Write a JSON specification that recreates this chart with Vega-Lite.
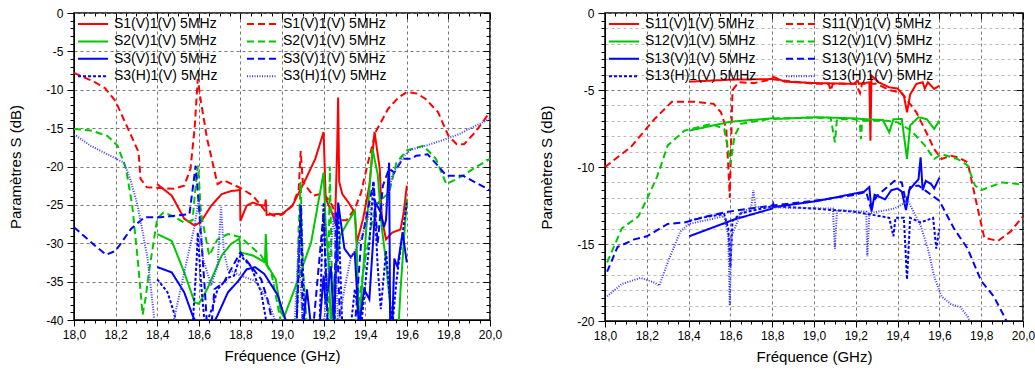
{
"$schema": "https://vega.github.io/schema/vega-lite/v6.json",
"padding": {"left": 7, "top": 6, "right": 0, "bottom": 0},
"config": {
  "font": "Liberation Sans",
  "view": {"stroke": "black", "strokeWidth": 1.5},
  "axis": {"labelFontSize": 12, "labelColor": "black", "titleFontSize": 15, "titleFontWeight": "normal", "titleColor": "black", "tickColor": "black", "domainColor": "black", "gridDash": [3, 3], "gridColor": "#777", "labelFont": "Liberation Sans", "titleFont": "Liberation Sans"},
  "legend": {"columns": 2, "symbolType": "M-1,0H5", "symbolSize": 100, "labelFontSize": 14, "labelFont": "Liberation Sans", "labelColor": "black", "labelOffset": 24, "columnPadding": 25, "rowPadding": 3.4, "padding": 0, "labelLimit": 300}
},
"datasets": {
"left": [
{"s":"a","f":18.40,"v":-22.3},{"s":"a","f":18.47,"v":-23.8},{"s":"a","f":18.53,"v":-26.8},{"s":"a","f":18.58,"v":-27.7},{"s":"a","f":18.61,"v":-27.2},{"s":"a","f":18.66,"v":-25.1},{"s":"a","f":18.71,"v":-23.6},{"s":"a","f":18.755,"v":-23.2},{"s":"a","f":18.79,"v":-23.1},{"s":"a","f":18.798,"v":-23.0},{"s":"a","f":18.80,"v":-27.1},{"s":"a","f":18.83,"v":-25.1},{"s":"a","f":18.86,"v":-24.7},{"s":"a","f":18.89,"v":-25.0},{"s":"a","f":18.918,"v":-25.1},{"s":"a","f":18.922,"v":-24.3},{"s":"a","f":18.926,"v":-26.3},{"s":"a","f":18.97,"v":-26.2},{"s":"a","f":19.0,"v":-26.2},{"s":"a","f":19.05,"v":-25.1},{"s":"a","f":19.115,"v":-21.6},{"s":"a","f":19.16,"v":-19.0},{"s":"a","f":19.2,"v":-15.5},{"s":"a","f":19.21,"v":-24.2},{"s":"a","f":19.24,"v":-26.0},{"s":"a","f":19.255,"v":-27.3},{"s":"a","f":19.265,"v":-18},{"s":"a","f":19.27,"v":-11.0},{"s":"a","f":19.275,"v":-22},{"s":"a","f":19.29,"v":-23.6},{"s":"a","f":19.32,"v":-24.7},{"s":"a","f":19.35,"v":-26.0},{"s":"a","f":19.36,"v":-29.9},{"s":"a","f":19.39,"v":-26.8},{"s":"a","f":19.42,"v":-22.5},{"s":"a","f":19.445,"v":-15.5},{"s":"a","f":19.47,"v":-20.3},{"s":"a","f":19.48,"v":-26.8},{"s":"a","f":19.5,"v":-29.5},{"s":"a","f":19.53,"v":-28.6},{"s":"a","f":19.57,"v":-28.2},{"s":"a","f":19.585,"v":-26},{"s":"a","f":19.6,"v":-22.5},
{"s":"b","f":18.0,"v":-7.8},{"s":"b","f":18.1,"v":-9.0},{"s":"b","f":18.15,"v":-9.8},{"s":"b","f":18.2,"v":-11.5},{"s":"b","f":18.26,"v":-15.1},{"s":"b","f":18.31,"v":-18.1},{"s":"b","f":18.32,"v":-21.6},{"s":"b","f":18.35,"v":-22.7},{"s":"b","f":18.48,"v":-22.9},{"s":"b","f":18.53,"v":-22.5},{"s":"b","f":18.56,"v":-20.3},{"s":"b","f":18.58,"v":-15},{"s":"b","f":18.595,"v":-8.6},{"s":"b","f":18.61,"v":-11.5},{"s":"b","f":18.64,"v":-16.4},{"s":"b","f":18.69,"v":-22.3},{"s":"b","f":18.72,"v":-21.8},{"s":"b","f":18.76,"v":-22.3},{"s":"b","f":18.8,"v":-22.8},{"s":"b","f":18.86,"v":-23.8},{"s":"b","f":18.92,"v":-25.8},{"s":"b","f":18.96,"v":-26.4},{"s":"b","f":19.0,"v":-26.3},{"s":"b","f":19.05,"v":-25.1},{"s":"b","f":19.08,"v":-23},{"s":"b","f":19.09,"v":-18},{"s":"b","f":19.1,"v":-22},{"s":"b","f":19.15,"v":-23.8},{"s":"b","f":19.2,"v":-23.5},{"s":"b","f":19.24,"v":-25},{"s":"b","f":19.27,"v":-27},{"s":"b","f":19.31,"v":-27},{"s":"b","f":19.35,"v":-25.5},{"s":"b","f":19.38,"v":-23.4},{"s":"b","f":19.41,"v":-19.9},{"s":"b","f":19.45,"v":-15.5},{"s":"b","f":19.51,"v":-12.5},{"s":"b","f":19.56,"v":-11},{"s":"b","f":19.6,"v":-10.3},{"s":"b","f":19.65,"v":-10.5},{"s":"b","f":19.69,"v":-11.2},{"s":"b","f":19.75,"v":-12.9},{"s":"b","f":19.8,"v":-16},{"s":"b","f":19.84,"v":-17.1},{"s":"b","f":19.875,"v":-17.1},{"s":"b","f":19.93,"v":-15.5},{"s":"b","f":20.0,"v":-12.9},
{"s":"c","f":18.40,"v":-28.8},{"s":"c","f":18.47,"v":-29.7},{"s":"c","f":18.53,"v":-33.8},{"s":"c","f":18.58,"v":-37.7},{"s":"c","f":18.60,"v":-37.9},{"s":"c","f":18.64,"v":-36.0},{"s":"c","f":18.71,"v":-31.6},{"s":"c","f":18.755,"v":-30.1},{"s":"c","f":18.795,"v":-29.4},{"s":"c","f":18.80,"v":-31.2},{"s":"c","f":18.86,"v":-31.6},{"s":"c","f":18.918,"v":-32.5},{"s":"c","f":18.922,"v":-28.8},{"s":"c","f":18.928,"v":-32.8},{"s":"c","f":18.97,"v":-34.7},{"s":"c","f":18.995,"v":-39},{"s":"c","f":19.01,"v":-39.6},{"s":"c","f":19.06,"v":-36},{"s":"c","f":19.14,"v":-29.9},{"s":"c","f":19.2,"v":-20.8},{"s":"c","f":19.21,"v":-27.5},{"s":"c","f":19.225,"v":-33},{"s":"c","f":19.235,"v":-41},{"s":"c","f":19.25,"v":-35},{"s":"c","f":19.28,"v":-29},{"s":"c","f":19.315,"v":-27.3},{"s":"c","f":19.35,"v":-25.8},{"s":"c","f":19.36,"v":-31},{"s":"c","f":19.37,"v":-41},{"s":"c","f":19.40,"v":-30},{"s":"c","f":19.435,"v":-17.7},{"s":"c","f":19.46,"v":-21},{"s":"c","f":19.48,"v":-28},{"s":"c","f":19.5,"v":-32.4},{"s":"c","f":19.53,"v":-41},{"s":"c","f":19.56,"v":-41},{"s":"c","f":19.57,"v":-36},{"s":"c","f":19.6,"v":-24.2},
{"s":"d","f":18.0,"v":-15.1},{"s":"d","f":18.08,"v":-15.3},{"s":"d","f":18.16,"v":-16.0},{"s":"d","f":18.21,"v":-17.3},{"s":"d","f":18.25,"v":-20.3},{"s":"d","f":18.28,"v":-25.1},{"s":"d","f":18.306,"v":-32},{"s":"d","f":18.33,"v":-39.3},{"s":"d","f":18.345,"v":-37},{"s":"d","f":18.36,"v":-33.8},{"s":"d","f":18.38,"v":-30.3},{"s":"d","f":18.40,"v":-26.8},{"s":"d","f":18.43,"v":-26.0},{"s":"d","f":18.47,"v":-26.4},{"s":"d","f":18.53,"v":-27.3},{"s":"d","f":18.57,"v":-27.0},{"s":"d","f":18.59,"v":-21},{"s":"d","f":18.597,"v":-19.9},{"s":"d","f":18.61,"v":-26},{"s":"d","f":18.65,"v":-31.6},{"s":"d","f":18.69,"v":-29.5},{"s":"d","f":18.74,"v":-28.8},{"s":"d","f":18.8,"v":-29.2},{"s":"d","f":18.9,"v":-31.6},{"s":"d","f":18.95,"v":-34},{"s":"d","f":19.0,"v":-41},{"s":"d","f":19.07,"v":-41},{"s":"d","f":19.08,"v":-28},{"s":"d","f":19.09,"v":-22},{"s":"d","f":19.1,"v":-33},{"s":"d","f":19.12,"v":-41},{"s":"d","f":19.22,"v":-41},{"s":"d","f":19.23,"v":-20},{"s":"d","f":19.24,"v":-35},{"s":"d","f":19.26,"v":-41},{"s":"d","f":19.35,"v":-41},{"s":"d","f":19.4,"v":-32},{"s":"d","f":19.45,"v":-25},{"s":"d","f":19.515,"v":-23.4},{"s":"d","f":19.55,"v":-19.5},{"s":"d","f":19.6,"v":-17.9},{"s":"d","f":19.68,"v":-17.3},{"s":"d","f":19.74,"v":-19},{"s":"d","f":19.79,"v":-22.3},{"s":"d","f":19.87,"v":-21.2},{"s":"d","f":19.93,"v":-20.1},{"s":"d","f":20.0,"v":-19},
{"s":"e","f":18.40,"v":-33.1},{"s":"e","f":18.47,"v":-33.8},{"s":"e","f":18.53,"v":-36.4},{"s":"e","f":18.57,"v":-39.4},{"s":"e","f":18.6,"v":-41},{"s":"e","f":18.66,"v":-41},{"s":"e","f":18.69,"v":-39.4},{"s":"e","f":18.74,"v":-36.4},{"s":"e","f":18.79,"v":-34.9},{"s":"e","f":18.83,"v":-33.4},{"s":"e","f":18.87,"v":-33.1},{"s":"e","f":18.915,"v":-34.0},{"s":"e","f":18.98,"v":-36.8},{"s":"e","f":19.01,"v":-39.4},{"s":"e","f":19.03,"v":-41},{"s":"e","f":19.1,"v":-41},{"s":"e","f":19.12,"v":-36},{"s":"e","f":19.14,"v":-41},{"s":"e","f":19.18,"v":-41},{"s":"e","f":19.2,"v":-34.2},{"s":"e","f":19.21,"v":-38},{"s":"e","f":19.235,"v":-33},{"s":"e","f":19.25,"v":-41},{"s":"e","f":19.27,"v":-24.7},{"s":"e","f":19.3,"v":-30.7},{"s":"e","f":19.33,"v":-31.8},{"s":"e","f":19.35,"v":-31.2},{"s":"e","f":19.37,"v":-41},{"s":"e","f":19.395,"v":-36},{"s":"e","f":19.42,"v":-37.3},{"s":"e","f":19.45,"v":-24.7},{"s":"e","f":19.475,"v":-26},{"s":"e","f":19.49,"v":-27.9},{"s":"e","f":19.5,"v":-27},{"s":"e","f":19.515,"v":-19.5},{"s":"e","f":19.52,"v":-41},{"s":"e","f":19.53,"v":-41},{"s":"e","f":19.54,"v":-32},{"s":"e","f":19.555,"v":-33.1},{"s":"e","f":19.58,"v":-28.6},{"s":"e","f":19.6,"v":-32.5},
{"s":"f","f":18.0,"v":-27.9},{"s":"f","f":18.1,"v":-30.3},{"s":"f","f":18.155,"v":-31.5},{"s":"f","f":18.2,"v":-31.0},{"s":"f","f":18.275,"v":-28.1},{"s":"f","f":18.34,"v":-26.6},{"s":"f","f":18.42,"v":-26.6},{"s":"f","f":18.49,"v":-26.4},{"s":"f","f":18.555,"v":-26.2},{"s":"f","f":18.585,"v":-19.9},{"s":"f","f":18.6,"v":-25},{"s":"f","f":18.63,"v":-36.4},{"s":"f","f":18.64,"v":-41},{"s":"f","f":18.66,"v":-41},{"s":"f","f":18.675,"v":-36},{"s":"f","f":18.72,"v":-35.1},{"s":"f","f":18.8,"v":-31.2},{"s":"f","f":18.9,"v":-34.7},{"s":"f","f":18.93,"v":-37.3},{"s":"f","f":18.96,"v":-41},{"s":"f","f":19.07,"v":-41},{"s":"f","f":19.09,"v":-25},{"s":"f","f":19.1,"v":-41},{"s":"f","f":19.15,"v":-41},{"s":"f","f":19.2,"v":-26},{"s":"f","f":19.22,"v":-41},{"s":"f","f":19.25,"v":-41},{"s":"f","f":19.26,"v":-26},{"s":"f","f":19.28,"v":-41},{"s":"f","f":19.35,"v":-41},{"s":"f","f":19.38,"v":-30},{"s":"f","f":19.44,"v":-22},{"s":"f","f":19.46,"v":-30},{"s":"f","f":19.485,"v":-22.5},{"s":"f","f":19.515,"v":-20.3},{"s":"f","f":19.54,"v":-20.8},{"s":"f","f":19.58,"v":-19},{"s":"f","f":19.62,"v":-19},{"s":"f","f":19.645,"v":-18.6},{"s":"f","f":19.7,"v":-18.4},{"s":"f","f":19.75,"v":-19.9},{"s":"f","f":19.79,"v":-21.2},{"s":"f","f":19.87,"v":-21.2},{"s":"f","f":20.0,"v":-23.1},
{"s":"g","f":18.40,"v":-34.7},{"s":"g","f":18.45,"v":-36.4},{"s":"g","f":18.48,"v":-39},{"s":"g","f":18.5,"v":-41},{"s":"g","f":18.57,"v":-41},{"s":"g","f":18.59,"v":-32},{"s":"g","f":18.595,"v":-28.6},{"s":"g","f":18.61,"v":-35},{"s":"g","f":18.63,"v":-41},{"s":"g","f":18.67,"v":-38},{"s":"g","f":18.69,"v":-36},{"s":"g","f":18.74,"v":-34.5},{"s":"g","f":18.77,"v":-34.2},{"s":"g","f":18.8,"v":-31.6},{"s":"g","f":18.85,"v":-33},{"s":"g","f":18.9,"v":-36.4},{"s":"g","f":18.93,"v":-41},{"s":"g","f":19.07,"v":-41},{"s":"g","f":19.09,"v":-25.1},{"s":"g","f":19.11,"v":-41},{"s":"g","f":19.18,"v":-41},{"s":"g","f":19.2,"v":-24.7},{"s":"g","f":19.22,"v":-41},{"s":"g","f":19.25,"v":-41},{"s":"g","f":19.27,"v":-25},{"s":"g","f":19.29,"v":-41},{"s":"g","f":19.33,"v":-41},{"s":"g","f":19.35,"v":-36},{"s":"g","f":19.38,"v":-41},{"s":"g","f":19.42,"v":-30},{"s":"g","f":19.44,"v":-22},{"s":"g","f":19.46,"v":-33},{"s":"g","f":19.475,"v":-38.6},{"s":"g","f":19.5,"v":-31},{"s":"g","f":19.53,"v":-41},{"s":"g","f":19.55,"v":-35},{"s":"g","f":19.57,"v":-30.7},{"s":"g","f":19.6,"v":-24.7},
{"s":"h","f":18.0,"v":-15.8},{"s":"h","f":18.08,"v":-17.3},{"s":"h","f":18.16,"v":-18.4},{"s":"h","f":18.24,"v":-19.5},{"s":"h","f":18.27,"v":-21.6},{"s":"h","f":18.306,"v":-25.1},{"s":"h","f":18.354,"v":-32},{"s":"h","f":18.386,"v":-39.9},{"s":"h","f":18.40,"v":-41},{"s":"h","f":18.47,"v":-41},{"s":"h","f":18.48,"v":-40},{"s":"h","f":18.53,"v":-33.8},{"s":"h","f":18.58,"v":-27.7},{"s":"h","f":18.6,"v":-24.2},{"s":"h","f":18.62,"v":-32},{"s":"h","f":18.66,"v":-35.5},{"s":"h","f":18.69,"v":-33},{"s":"h","f":18.707,"v":-25.3},{"s":"h","f":18.72,"v":-31},{"s":"h","f":18.74,"v":-33.4},{"s":"h","f":18.8,"v":-34.2},{"s":"h","f":18.87,"v":-34.9},{"s":"h","f":18.93,"v":-37.3},{"s":"h","f":18.98,"v":-41},{"s":"h","f":19.06,"v":-41},{"s":"h","f":19.08,"v":-30},{"s":"h","f":19.1,"v":-41},{"s":"h","f":19.2,"v":-41},{"s":"h","f":19.25,"v":-26},{"s":"h","f":19.27,"v":-41},{"s":"h","f":19.3,"v":-36},{"s":"h","f":19.33,"v":-32},{"s":"h","f":19.38,"v":-29.4},{"s":"h","f":19.435,"v":-24.9},{"s":"h","f":19.45,"v":-24.7},{"s":"h","f":19.5,"v":-25.1},{"s":"h","f":19.53,"v":-21.2},{"s":"h","f":19.58,"v":-18.8},{"s":"h","f":19.62,"v":-17.8},{"s":"h","f":19.69,"v":-17.3},{"s":"h","f":19.77,"v":-16.6},{"s":"h","f":19.85,"v":-15.8},{"s":"h","f":19.93,"v":-14.7},{"s":"h","f":20.0,"v":-13.8}
],
"right": [
{"s":"a","f":18.403,"v":-4.46},{"s":"a","f":18.6,"v":-4.33},{"s":"a","f":18.8,"v":-4.29},{"s":"a","f":18.805,"v":-4.15},{"s":"a","f":18.86,"v":-4.46},{"s":"a","f":19.01,"v":-4.55},{"s":"a","f":19.19,"v":-4.6},{"s":"a","f":19.21,"v":-4.4},{"s":"a","f":19.215,"v":-4.6},{"s":"a","f":19.265,"v":-4.5},{"s":"a","f":19.27,"v":-8.3},{"s":"a","f":19.275,"v":-4.07},{"s":"a","f":19.31,"v":-4.5},{"s":"a","f":19.36,"v":-4.83},{"s":"a","f":19.4,"v":-4.9},{"s":"a","f":19.43,"v":-5.37},{"s":"a","f":19.445,"v":-6.45},{"s":"a","f":19.46,"v":-5.3},{"s":"a","f":19.49,"v":-4.6},{"s":"a","f":19.52,"v":-4.5},{"s":"a","f":19.53,"v":-4.9},{"s":"a","f":19.545,"v":-4.5},{"s":"a","f":19.575,"v":-4.93},{"s":"a","f":19.6,"v":-4.72},
{"s":"b","f":18.0,"v":-10.0},{"s":"b","f":18.124,"v":-8.7},{"s":"b","f":18.236,"v":-6.9},{"s":"b","f":18.32,"v":-5.76},{"s":"b","f":18.43,"v":-5.76},{"s":"b","f":18.52,"v":-5.9},{"s":"b","f":18.555,"v":-6.45},{"s":"b","f":18.58,"v":-7.5},{"s":"b","f":18.59,"v":-10},{"s":"b","f":18.597,"v":-12},{"s":"b","f":18.61,"v":-5},{"s":"b","f":18.64,"v":-4.5},{"s":"b","f":18.715,"v":-4.55},{"s":"b","f":18.8,"v":-4.3},{"s":"b","f":19.0,"v":-4.6},{"s":"b","f":19.07,"v":-4.6},{"s":"b","f":19.08,"v":-5.04},{"s":"b","f":19.09,"v":-4.6},{"s":"b","f":19.2,"v":-4.6},{"s":"b","f":19.22,"v":-5.2},{"s":"b","f":19.23,"v":-4.6},{"s":"b","f":19.3,"v":-4.6},{"s":"b","f":19.36,"v":-5},{"s":"b","f":19.42,"v":-5.2},{"s":"b","f":19.49,"v":-6.45},{"s":"b","f":19.545,"v":-7.97},{"s":"b","f":19.575,"v":-8.83},{"s":"b","f":19.61,"v":-9.48},{"s":"b","f":19.655,"v":-9.27},{"s":"b","f":19.69,"v":-9.37},{"s":"b","f":19.735,"v":-9.7},{"s":"b","f":19.78,"v":-12.5},{"s":"b","f":19.815,"v":-14.6},{"s":"b","f":19.88,"v":-14.8},{"s":"b","f":19.94,"v":-14.2},{"s":"b","f":20.0,"v":-13.2},
{"s":"c","f":18.403,"v":-7.64},{"s":"c","f":18.6,"v":-7.06},{"s":"c","f":18.8,"v":-6.84},{"s":"c","f":18.805,"v":-6.75},{"s":"c","f":18.81,"v":-6.88},{"s":"c","f":19.01,"v":-6.77},{"s":"c","f":19.19,"v":-6.84},{"s":"c","f":19.25,"v":-6.9},{"s":"c","f":19.33,"v":-6.95},{"s":"c","f":19.36,"v":-7.75},{"s":"c","f":19.38,"v":-6.9},{"s":"c","f":19.42,"v":-6.88},{"s":"c","f":19.445,"v":-9.48},{"s":"c","f":19.46,"v":-7.3},{"s":"c","f":19.5,"v":-6.77},{"s":"c","f":19.54,"v":-6.9},{"s":"c","f":19.575,"v":-7.53},{"s":"c","f":19.6,"v":-6.99},
{"s":"d","f":18.01,"v":-16.2},{"s":"d","f":18.08,"v":-14.0},{"s":"d","f":18.16,"v":-13.2},{"s":"d","f":18.2,"v":-12.1},{"s":"d","f":18.25,"v":-10.6},{"s":"d","f":18.3,"v":-8.6},{"s":"d","f":18.38,"v":-7.64},{"s":"d","f":18.51,"v":-7.2},{"s":"d","f":18.57,"v":-7.53},{"s":"d","f":18.595,"v":-9.27},{"s":"d","f":18.6,"v":-9.8},{"s":"d","f":18.62,"v":-7.97},{"s":"d","f":18.65,"v":-7.2},{"s":"d","f":18.8,"v":-6.85},{"s":"d","f":19.0,"v":-6.8},{"s":"d","f":19.08,"v":-6.8},{"s":"d","f":19.1,"v":-8.4},{"s":"d","f":19.11,"v":-6.9},{"s":"d","f":19.2,"v":-6.9},{"s":"d","f":19.22,"v":-7.3},{"s":"d","f":19.225,"v":-8.2},{"s":"d","f":19.23,"v":-7.0},{"s":"d","f":19.35,"v":-7.0},{"s":"d","f":19.4,"v":-7.1},{"s":"d","f":19.465,"v":-7.64},{"s":"d","f":19.53,"v":-8.6},{"s":"d","f":19.575,"v":-9.48},{"s":"d","f":19.61,"v":-9.16},{"s":"d","f":19.69,"v":-9.5},{"s":"d","f":19.735,"v":-9.9},{"s":"d","f":19.77,"v":-11.2},{"s":"d","f":19.8,"v":-11.5},{"s":"d","f":19.9,"v":-11.0},{"s":"d","f":19.975,"v":-11.1},{"s":"d","f":20.0,"v":-11.3},
{"s":"e","f":18.403,"v":-14.5},{"s":"e","f":18.62,"v":-13.4},{"s":"e","f":18.8,"v":-12.7},{"s":"e","f":18.805,"v":-12.4},{"s":"e","f":18.81,"v":-12.6},{"s":"e","f":19.02,"v":-12.2},{"s":"e","f":19.24,"v":-11.6},{"s":"e","f":19.265,"v":-11.3},{"s":"e","f":19.275,"v":-12.9},{"s":"e","f":19.29,"v":-11.8},{"s":"e","f":19.34,"v":-12.1},{"s":"e","f":19.37,"v":-11.5},{"s":"e","f":19.4,"v":-11.4},{"s":"e","f":19.42,"v":-11.6},{"s":"e","f":19.44,"v":-12.8},{"s":"e","f":19.456,"v":-11.5},{"s":"e","f":19.48,"v":-11.1},{"s":"e","f":19.5,"v":-10.8},{"s":"e","f":19.51,"v":-9.37},{"s":"e","f":19.52,"v":-11.5},{"s":"e","f":19.535,"v":-10.9},{"s":"e","f":19.56,"v":-11.1},{"s":"e","f":19.575,"v":-11.4},{"s":"e","f":19.6,"v":-10.7},
{"s":"f","f":18.01,"v":-16.8},{"s":"f","f":18.06,"v":-15.2},{"s":"f","f":18.14,"v":-14.7},{"s":"f","f":18.2,"v":-14.5},{"s":"f","f":18.3,"v":-13.7},{"s":"f","f":18.38,"v":-13.6},{"s":"f","f":18.49,"v":-13.2},{"s":"f","f":18.59,"v":-12.9},{"s":"f","f":18.8,"v":-12.5},{"s":"f","f":19.0,"v":-12.2},{"s":"f","f":19.2,"v":-11.8},{"s":"f","f":19.25,"v":-11.6},{"s":"f","f":19.27,"v":-12.6},{"s":"f","f":19.3,"v":-11.9},{"s":"f","f":19.385,"v":-10.9},{"s":"f","f":19.42,"v":-11.0},{"s":"f","f":19.44,"v":-12.3},{"s":"f","f":19.46,"v":-11.3},{"s":"f","f":19.5,"v":-11.2},{"s":"f","f":19.6,"v":-12.2},{"s":"f","f":19.67,"v":-14.0},{"s":"f","f":19.735,"v":-15.3},{"s":"f","f":19.8,"v":-17.4},{"s":"f","f":19.86,"v":-18.4},{"s":"f","f":19.91,"v":-19.7},{"s":"f","f":19.94,"v":-20.5},
{"s":"g","f":18.403,"v":-13.5},{"s":"g","f":18.46,"v":-13.3},{"s":"g","f":18.57,"v":-13.05},{"s":"g","f":18.59,"v":-14},{"s":"g","f":18.6,"v":-16.5},{"s":"g","f":18.61,"v":-13.5},{"s":"g","f":18.65,"v":-13.0},{"s":"g","f":18.8,"v":-12.55},{"s":"g","f":19.0,"v":-12.7},{"s":"g","f":19.19,"v":-12.9},{"s":"g","f":19.32,"v":-13.2},{"s":"g","f":19.36,"v":-13.3},{"s":"g","f":19.38,"v":-14.5},{"s":"g","f":19.39,"v":-13.3},{"s":"g","f":19.43,"v":-13.3},{"s":"g","f":19.445,"v":-17.3},{"s":"g","f":19.46,"v":-13.3},{"s":"g","f":19.51,"v":-13.6},{"s":"g","f":19.57,"v":-13.3},{"s":"g","f":19.585,"v":-15.3},{"s":"g","f":19.6,"v":-14},
{"s":"h","f":18.01,"v":-18.4},{"s":"h","f":18.08,"v":-17.6},{"s":"h","f":18.17,"v":-17.2},{"s":"h","f":18.236,"v":-17.5},{"s":"h","f":18.26,"v":-17.7},{"s":"h","f":18.3,"v":-16.2},{"s":"h","f":18.36,"v":-14.2},{"s":"h","f":18.4,"v":-13.7},{"s":"h","f":18.57,"v":-13.2},{"s":"h","f":18.59,"v":-14.5},{"s":"h","f":18.597,"v":-19.0},{"s":"h","f":18.605,"v":-14.5},{"s":"h","f":18.65,"v":-13.0},{"s":"h","f":18.7,"v":-12.6},{"s":"h","f":18.71,"v":-11.5},{"s":"h","f":18.72,"v":-12.6},{"s":"h","f":19.09,"v":-12.7},{"s":"h","f":19.1,"v":-15.3},{"s":"h","f":19.11,"v":-12.8},{"s":"h","f":19.25,"v":-12.9},{"s":"h","f":19.255,"v":-15.8},{"s":"h","f":19.265,"v":-13.0},{"s":"h","f":19.385,"v":-12.7},{"s":"h","f":19.45,"v":-12.2},{"s":"h","f":19.51,"v":-13.8},{"s":"h","f":19.545,"v":-15.3},{"s":"h","f":19.575,"v":-17.1},{"s":"h","f":19.61,"v":-18.4},{"s":"h","f":19.655,"v":-18.9},{"s":"h","f":19.7,"v":-19.1},{"s":"h","f":19.735,"v":-19.7},{"s":"h","f":19.76,"v":-20.5}
]
},
"hconcat": [
{
  "width": 416, "height": 307,
  "data": {"name": "left"},
  "resolve": {"axis": {"x": "independent", "y": "independent"}},
  "layer": [
  {
  "mark": {"type": "line", "clip": true},
  "encoding": {
    "x": {"field": "f", "type": "quantitative", "scale": {"domain": [18, 20], "nice": false, "zero": false},
      "axis": {"title": "Fréquence (GHz)", "values": [18,18.05,18.1,18.15,18.2,18.25,18.3,18.35,18.4,18.45,18.5,18.55,18.6,18.65,18.7,18.75,18.8,18.85,18.9,18.95,19,19.05,19.1,19.15,19.2,19.25,19.3,19.35,19.4,19.45,19.5,19.55,19.6,19.65,19.7,19.75,19.8,19.85,19.9,19.95,20],
        "labelExpr": "abs(datum.value*5 - round(datum.value*5)) < 0.01 ? replace(format(datum.value, '.1f'), '.', ',') : ''",
        "gridOpacity": {"condition": {"test": "abs(datum.value*5 - round(datum.value*5)) < 0.01", "value": 1}, "value": 0},
        "tickSize": {"condition": {"test": "abs(datum.value*5 - round(datum.value*5)) < 0.01", "value": 6}, "value": 3},
        "labelPadding": 3, "titlePadding": 8, "labelFlush": false}},
    "y": {"field": "v", "type": "quantitative", "scale": {"domain": [-40, 0], "nice": false, "zero": false},
      "axis": {"title": "Paramètres S (dB)", "values": [-40,-39,-38,-37,-36,-35,-34,-33,-32,-31,-30,-29,-28,-27,-26,-25,-24,-23,-22,-21,-20,-19,-18,-17,-16,-15,-14,-13,-12,-11,-10,-9,-8,-7,-6,-5,-4,-3,-2,-1,0],
        "labelExpr": "datum.value % 5 == 0 ? '' + datum.value : ''",
        "gridOpacity": {"condition": {"test": "datum.value % 5 == 0", "value": 1}, "value": 0},
        "tickSize": {"condition": {"test": "datum.value % 5 == 0", "value": 7}, "value": 4},
        "labelPadding": 4, "titlePadding": 22, "labelFlush": false}},
    "color": {"field": "s", "type": "nominal", "scale": {"domain": ["a","c","e","g","b","d","f","h"], "range": ["#ff0000","#00c800","#0000ff","#0000ff","#ff0000","#00c800","#0000ff","#3a3aff"]},
      "legend": {"title": null, "orient": "none", "legendX": 2, "legendY": 4, "labelExpr": "indexof('ab', datum.value) >= 0 ? 'S1(V)1(V) 5MHz' : indexof('cd', datum.value) >= 0 ? 'S2(V)1(V) 5MHz' : indexof('ef', datum.value) >= 0 ? 'S3(V)1(V) 5MHz' : 'S3(H)1(V) 5MHz'"}},
    "strokeDash": {"field": "s", "type": "nominal", "scale": {"domain": ["a","c","e","g","b","d","f","h"], "range": [[1,0],[1,0],[1,0],[3,2],[7,4],[7,4],[7,4],[1,1.5]]},
      "legend": {"title": null, "orient": "none", "legendX": 2, "legendY": 4, "labelExpr": "indexof('ab', datum.value) >= 0 ? 'S1(V)1(V) 5MHz' : indexof('cd', datum.value) >= 0 ? 'S2(V)1(V) 5MHz' : indexof('ef', datum.value) >= 0 ? 'S3(V)1(V) 5MHz' : 'S3(H)1(V) 5MHz'"}},
    "strokeWidth": {"field": "s", "type": "nominal", "scale": {"domain": ["a","c","e","g","b","d","f","h"], "range": [2,2,2,2,1.5,1.5,1.5,1]},
      "legend": {"title": null, "orient": "none", "legendX": 2, "legendY": 4, "labelExpr": "indexof('ab', datum.value) >= 0 ? 'S1(V)1(V) 5MHz' : indexof('cd', datum.value) >= 0 ? 'S2(V)1(V) 5MHz' : indexof('ef', datum.value) >= 0 ? 'S3(V)1(V) 5MHz' : 'S3(H)1(V) 5MHz'"}}
  }
  },
  {
  "mark": {"type": "line", "strokeOpacity": 0, "clip": true},
  "encoding": {
    "x": {"field": "f", "type": "quantitative", "scale": {"domain": [18, 20], "nice": false, "zero": false},
      "axis": {"orient": "top", "title": null, "labels": false, "grid": false, "domain": false, "values": [18,18.05,18.1,18.15,18.2,18.25,18.3,18.35,18.4,18.45,18.5,18.55,18.6,18.65,18.7,18.75,18.8,18.85,18.9,18.95,19,19.05,19.1,19.15,19.2,19.25,19.3,19.35,19.4,19.45,19.5,19.55,19.6,19.65,19.7,19.75,19.8,19.85,19.9,19.95,20],
        "tickSize": {"condition": {"test": "abs(datum.value*5 - round(datum.value*5)) < 0.01", "value": -6}, "value": -3}}},
    "y": {"field": "v", "type": "quantitative", "scale": {"domain": [-40, 0], "nice": false, "zero": false},
      "axis": {"orient": "right", "title": null, "labels": false, "grid": false, "domain": false, "values": [-40,-39,-38,-37,-36,-35,-34,-33,-32,-31,-30,-29,-28,-27,-26,-25,-24,-23,-22,-21,-20,-19,-18,-17,-16,-15,-14,-13,-12,-11,-10,-9,-8,-7,-6,-5,-4,-3,-2,-1,0],
        "tickSize": {"condition": {"test": "datum.value % 5 == 0", "value": -7}, "value": -4}}}
  }
  }
  ]
},
{
  "width": 418, "height": 308,
  "data": {"name": "right"},
  "resolve": {"axis": {"x": "independent", "y": "independent"}},
  "layer": [
  {
  "mark": {"type": "line", "clip": true},
  "encoding": {
    "x": {"field": "f", "type": "quantitative", "scale": {"domain": [18, 20], "nice": false, "zero": false},
      "axis": {"title": "Fréquence (GHz)", "values": [18,18.05,18.1,18.15,18.2,18.25,18.3,18.35,18.4,18.45,18.5,18.55,18.6,18.65,18.7,18.75,18.8,18.85,18.9,18.95,19,19.05,19.1,19.15,19.2,19.25,19.3,19.35,19.4,19.45,19.5,19.55,19.6,19.65,19.7,19.75,19.8,19.85,19.9,19.95,20],
        "labelExpr": "abs(datum.value*5 - round(datum.value*5)) < 0.01 ? replace(format(datum.value, '.1f'), '.', ',') : ''",
        "gridOpacity": {"condition": {"test": "abs(datum.value*5 - round(datum.value*5)) < 0.01", "value": 1}, "value": 0},
        "tickSize": {"condition": {"test": "abs(datum.value*5 - round(datum.value*5)) < 0.01", "value": 6}, "value": 3},
        "labelPadding": 3, "titlePadding": 8, "labelFlush": false}},
    "y": {"field": "v", "type": "quantitative", "scale": {"domain": [-20, 0], "nice": false, "zero": false},
      "axis": {"title": "Paramètres S (dB)", "values": [-20,-19.5,-19,-18.5,-18,-17.5,-17,-16.5,-16,-15.5,-15,-14.5,-14,-13.5,-13,-12.5,-12,-11.5,-11,-10.5,-10,-9.5,-9,-8.5,-8,-7.5,-7,-6.5,-6,-5.5,-5,-4.5,-4,-3.5,-3,-2.5,-2,-1.5,-1,-0.5,0],
        "labelExpr": "datum.value % 5 == 0 ? '' + datum.value : ''",
        "gridOpacity": {"condition": {"test": "datum.value % 1 == 0", "value": 1}, "value": 0},
        "gridColor": {"condition": {"test": "datum.value % 5 == 0", "value": "#777"}, "value": "#bbb"},
        "tickSize": {"condition": {"test": "datum.value % 5 == 0", "value": 7}, "value": 4},
        "labelPadding": 4, "titlePadding": 22, "labelFlush": false}},
    "color": {"field": "s", "type": "nominal", "scale": {"domain": ["a","c","e","g","b","d","f","h"], "range": ["#ff0000","#00c800","#0000ff","#0000ff","#ff0000","#00c800","#0000ff","#3a3aff"]},
      "legend": {"title": null, "orient": "none", "legendX": 2, "legendY": 4, "labelExpr": "indexof('ab', datum.value) >= 0 ? 'S11(V)1(V) 5MHz' : indexof('cd', datum.value) >= 0 ? 'S12(V)1(V) 5MHz' : indexof('ef', datum.value) >= 0 ? 'S13(V)1(V) 5MHz' : 'S13(H)1(V) 5MHz'"}},
    "strokeDash": {"field": "s", "type": "nominal", "scale": {"domain": ["a","c","e","g","b","d","f","h"], "range": [[1,0],[1,0],[1,0],[3,2],[7,4],[7,4],[7,4],[1,1.5]]},
      "legend": {"title": null, "orient": "none", "legendX": 2, "legendY": 4, "labelExpr": "indexof('ab', datum.value) >= 0 ? 'S11(V)1(V) 5MHz' : indexof('cd', datum.value) >= 0 ? 'S12(V)1(V) 5MHz' : indexof('ef', datum.value) >= 0 ? 'S13(V)1(V) 5MHz' : 'S13(H)1(V) 5MHz'"}},
    "strokeWidth": {"field": "s", "type": "nominal", "scale": {"domain": ["a","c","e","g","b","d","f","h"], "range": [2,2,2,2,1.5,1.5,1.5,1]},
      "legend": {"title": null, "orient": "none", "legendX": 2, "legendY": 4, "labelExpr": "indexof('ab', datum.value) >= 0 ? 'S11(V)1(V) 5MHz' : indexof('cd', datum.value) >= 0 ? 'S12(V)1(V) 5MHz' : indexof('ef', datum.value) >= 0 ? 'S13(V)1(V) 5MHz' : 'S13(H)1(V) 5MHz'"}}
  }
  },
  {
  "mark": {"type": "line", "strokeOpacity": 0, "clip": true},
  "encoding": {
    "x": {"field": "f", "type": "quantitative", "scale": {"domain": [18, 20], "nice": false, "zero": false},
      "axis": {"orient": "top", "title": null, "labels": false, "grid": false, "domain": false, "values": [18,18.05,18.1,18.15,18.2,18.25,18.3,18.35,18.4,18.45,18.5,18.55,18.6,18.65,18.7,18.75,18.8,18.85,18.9,18.95,19,19.05,19.1,19.15,19.2,19.25,19.3,19.35,19.4,19.45,19.5,19.55,19.6,19.65,19.7,19.75,19.8,19.85,19.9,19.95,20],
        "tickSize": {"condition": {"test": "abs(datum.value*5 - round(datum.value*5)) < 0.01", "value": -6}, "value": -3}}},
    "y": {"field": "v", "type": "quantitative", "scale": {"domain": [-20, 0], "nice": false, "zero": false},
      "axis": {"orient": "right", "title": null, "labels": false, "grid": false, "domain": false, "values": [-20,-19,-18,-17,-16,-15,-14,-13,-12,-11,-10,-9,-8,-7,-6,-5,-4,-3,-2,-1,0],
        "tickSize": {"condition": {"test": "datum.value % 5 == 0", "value": -7}, "value": -4}}}
  }
  }
  ]
}
],
"spacing": 35,
"resolve": {"scale": {"color": "independent", "strokeDash": "independent", "strokeWidth": "independent", "x": "independent", "y": "independent"}, "legend": {"color": "independent", "strokeDash": "independent", "strokeWidth": "independent"}}
}
